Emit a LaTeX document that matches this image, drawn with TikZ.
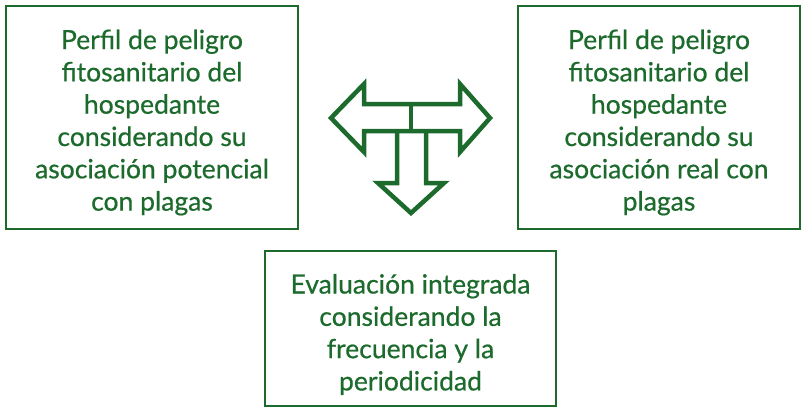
\documentclass[tikz,border=0pt]{standalone}
\usepackage{fontspec}
\setmainfont{Lato}[FakeBold=0.6]
\usepackage{xcolor}
\definecolor{verde}{RGB}{28,106,44}

\begin{document}
\begin{tikzpicture}[x=1pt, y=-1pt,
    caja/.style={rectangle, draw=verde, line width=1.6pt, inner sep=0pt},
    texto/.style={text=verde, align=center, font=\fontsize{26.5}{32.3}\selectfont}]
    \useasboundingbox (0,0) rectangle (802,407);
    % Define nodes
    \node [caja, minimum width=292pt, minimum height=223pt] (potencial) at (152,117.5) {};
    \node [caja, minimum width=282pt, minimum height=223pt] (real) at (659,117.5) {};
    \node [caja, minimum width=291pt, minimum height=155pt] (integrada) at (410.5,328.5) {};
    \node [texto] at ([yshift=-5pt]potencial) {Perfil de peligro\\fitosanitario del\\hospedante\\considerando su\\asociación potencial\\con plagas};
    \node [texto] at ([yshift=-5pt]real) {Perfil de peligro\\fitosanitario del\\hospedante\\considerando su\\asociación real con\\plagas};
    \node [texto] at ([yshift=-6pt]integrada) {Evaluación integrada\\considerando la\\frecuencia y la\\periodicidad};

    % Draw arrow shape
    \draw [verde, line width=4.5pt, line join=miter]
        (331,118) -- (364,84) -- (364,104) -- (460,104) -- (460,84) -- (490,118)
        -- (460,152) -- (460,131) -- (364,131) -- (364,152) -- cycle;
    \draw [verde, line width=4.5pt] (411,104) -- (411,131);
    \draw [verde, line width=4.5pt, line join=miter]
        (397,131) -- (397,183) -- (378,183) -- (411,213) -- (444,183) -- (426,183) -- (426,131);
\end{tikzpicture}
\end{document}
